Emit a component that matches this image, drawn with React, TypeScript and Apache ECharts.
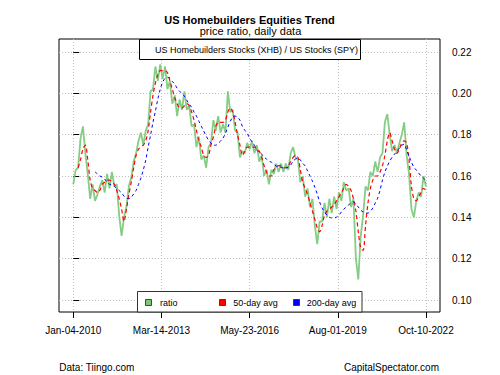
import React, { useEffect, useRef } from 'react';
import * as echarts from 'echarts';

// Trading-day index step between samples (index 0 = Jan-04-2010, index 3212 = Oct-10-2022)
const STEP = 22;

// XHB / SPY price ratio (sampled)
const ratio = [
  0.156, 0.163, 0.164, 0.178, 0.184, 0.171, 0.161, 0.149, 0.156, 0.148,
  0.151, 0.155, 0.158, 0.152, 0.161, 0.154, 0.162, 0.155, 0.156, 0.141,
  0.131, 0.140, 0.145, 0.155, 0.159, 0.167, 0.171, 0.177, 0.181, 0.175,
  0.182, 0.185, 0.201, 0.202, 0.213, 0.206, 0.214, 0.207, 0.213, 0.202,
  0.206, 0.195, 0.199, 0.189, 0.197, 0.192, 0.201, 0.192, 0.194, 0.184,
  0.185, 0.174, 0.179, 0.168, 0.170, 0.164, 0.174, 0.176, 0.187, 0.182,
  0.189, 0.181, 0.185, 0.181, 0.201, 0.191, 0.192, 0.182, 0.181, 0.169,
  0.172, 0.171, 0.176, 0.173, 0.177, 0.171, 0.175, 0.167, 0.170, 0.160,
  0.163, 0.156, 0.163, 0.161, 0.166, 0.162, 0.166, 0.162, 0.166, 0.163,
  0.171, 0.174, 0.169, 0.168, 0.157, 0.160, 0.150, 0.154, 0.145, 0.149,
  0.136, 0.127, 0.138, 0.138, 0.147, 0.140, 0.149, 0.142, 0.150, 0.144,
  0.152, 0.148, 0.157, 0.153, 0.154, 0.145, 0.149, 0.120, 0.110, 0.131,
  0.141, 0.155, 0.153, 0.162, 0.160, 0.167, 0.162, 0.169, 0.171, 0.186,
  0.190, 0.180, 0.172, 0.175, 0.171, 0.176, 0.180, 0.186, 0.170, 0.161,
  0.144, 0.140, 0.148, 0.152, 0.150, 0.160, 0.155,
];

// 50-day moving average (sampled)
const ma50 = [
  null, null, 0.164, 0.168, 0.173, 0.175, 0.168, 0.158, 0.154, 0.153,
  0.152, 0.153, 0.156, 0.157, 0.158, 0.158, 0.157, 0.156, 0.153, 0.149,
  0.144, 0.138, 0.144, 0.151, 0.157, 0.164, 0.170, 0.173, 0.174, 0.175,
  0.177, 0.182, 0.191, 0.199, 0.205, 0.209, 0.211, 0.211, 0.211, 0.210,
  0.206, 0.202, 0.198, 0.195, 0.193, 0.193, 0.194, 0.195, 0.194, 0.191,
  0.187, 0.182, 0.177, 0.174, 0.170, 0.169, 0.170, 0.175, 0.179, 0.184,
  0.186, 0.186, 0.186, 0.187, 0.191, 0.193, 0.191, 0.186, 0.180, 0.175,
  0.170, 0.172, 0.174, 0.174, 0.174, 0.174, 0.173, 0.172, 0.169, 0.165,
  0.162, 0.160, 0.160, 0.163, 0.164, 0.165, 0.165, 0.164, 0.164, 0.165,
  0.167, 0.169, 0.170, 0.169, 0.163, 0.157, 0.154, 0.151, 0.147, 0.143,
  0.139, 0.135, 0.133, 0.136, 0.141, 0.143, 0.144, 0.145, 0.146, 0.148,
  0.150, 0.152, 0.154, 0.156, 0.155, 0.153, 0.149, 0.143, 0.133, 0.125,
  0.124, 0.136, 0.147, 0.154, 0.158, 0.160, 0.160, 0.162, 0.165, 0.170,
  0.177, 0.181, 0.177, 0.173, 0.171, 0.173, 0.176, 0.177, 0.176, 0.168,
  0.155, 0.149, 0.148, 0.150, 0.152, 0.154, 0.153,
];

// 200-day moving average (sampled)
const ma200 = [
  null, null, null, null, null, null, null, null, null, 0.162,
  0.161, 0.160, 0.1595, 0.1585, 0.157, 0.156, 0.1556, 0.155, 0.154, 0.153,
  0.1518, 0.1503, 0.1493, 0.149, 0.1498, 0.1513, 0.153, 0.156, 0.159, 0.163,
  0.1677, 0.174, 0.1798, 0.186, 0.1914, 0.1972, 0.202, 0.2054, 0.2073, 0.2078,
  0.2073, 0.2058, 0.2044, 0.2025, 0.201, 0.200, 0.1986, 0.1967, 0.1947, 0.1933,
  0.1909, 0.189, 0.1865, 0.1841, 0.1817, 0.1793, 0.1774, 0.1759, 0.1749, 0.1749,
  0.1759, 0.1769, 0.1783, 0.1807, 0.1836, 0.1865, 0.1885, 0.189, 0.1885, 0.187,
  0.1841, 0.1822, 0.1807, 0.1783, 0.1765, 0.1749, 0.1725, 0.1716, 0.1706, 0.1691,
  0.1682, 0.1672, 0.1667, 0.1657, 0.1648, 0.1643, 0.1643, 0.1638, 0.1638, 0.1643,
  0.1653, 0.1672, 0.1682, 0.1687, 0.1677, 0.1662, 0.1648, 0.1624, 0.160, 0.1575,
  0.1546, 0.1513, 0.1474, 0.1445, 0.1426, 0.1411, 0.1401, 0.1397, 0.1397, 0.1401,
  0.1411, 0.1426, 0.144, 0.145, 0.146, 0.1469, 0.1474, 0.1464, 0.145, 0.1435,
  0.1426, 0.1421, 0.1421, 0.143, 0.1445, 0.1469, 0.1493, 0.1532, 0.158, 0.1619,
  0.1648, 0.1672, 0.1691, 0.1706, 0.172, 0.1735, 0.1749, 0.1754, 0.1725, 0.1696,
  0.1667, 0.1643, 0.1629, 0.1614, 0.160, 0.159, 0.1566,
];

const xTickIndex = [0, 803, 1606, 2409, 3212];
const xTickLabels = ['Jan-04-2010', 'Mar-14-2013', 'May-23-2016', 'Aug-01-2019', 'Oct-10-2022'];
const yTickValues = [0.1, 0.12, 0.14, 0.16, 0.18, 0.2, 0.22];
const legendNames = ['ratio', '50-day avg', '200-day avg'];

const TITLE = 'US Homebuilders Equities Trend';
const SUBTITLE = 'price ratio, daily data';
const BOX_TEXT = 'US Homebuilders Stocks (XHB) / US Stocks (SPY)';
const SOURCE = 'Data: Tiingo.com';
const CREDIT = 'CapitalSpectator.com';

const FONT = '"Liberation Sans", Arial, Helvetica, sans-serif';
const GREEN = '#78C878';
const RED = '#FF0000';
const BLUE = '#0000FF';

function toPoints(arr: (number | null)[]) {
  const out: [number, number][] = [];
  arr.forEach((v, i) => {
    if (v != null) out.push([i * STEP, v]);
  });
  return out;
}

export default function App() {
  const ref = useRef<HTMLDivElement>(null);

  useEffect(() => {
    if (!ref.current) return;
    const chart = echarts.init(ref.current, null, { renderer: 'svg' });
    const colors = [GREEN, RED, BLUE];
    const legendIconX = [145.5, 219.5, 293.5];
    const legendTextX = [160, 233.3, 306.7];

    const option: any = {
      animation: false,
      backgroundColor: '#fff',
      textStyle: { fontFamily: FONT },
      grid: {
        left: 59, top: 39, width: 381, height: 273,
        show: true, borderColor: '#000', borderWidth: 1,
        backgroundColor: 'transparent',
      },
      xAxis: {
        type: 'value',
        min: -130,
        max: 3340,
        axisLine: { show: false },
        axisTick: { show: true, customValues: xTickIndex, length: 6, lineStyle: { color: '#000' } },
        axisLabel: {
          customValues: xTickIndex,
          formatter: (v: number) => {
            const k = xTickIndex.indexOf(Math.round(v));
            return k >= 0 ? xTickLabels[k] : '';
          },
          margin: 13, fontSize: 10, color: '#000', fontFamily: FONT,
        },
        splitLine: { show: true, lineStyle: { color: '#bdbdbd', type: [1, 2], width: 1 } },
      },
      yAxis: {
        type: 'value',
        position: 'right',
        min: 0.0942,
        max: 0.2263,
        axisLine: { show: false },
        axisTick: { show: true, customValues: yTickValues, length: 6, lineStyle: { color: '#000' } },
        axisLabel: {
          customValues: yTickValues,
          formatter: (v: number) => v.toFixed(2),
          margin: 12, fontSize: 10, color: '#000', fontFamily: FONT,
        },
        splitLine: { show: true, lineStyle: { color: '#bdbdbd', type: [1, 2], width: 1 } },
      },
      series: [
        {
          name: legendNames[0], type: 'line', data: toPoints(ratio), symbol: 'none',
          lineStyle: { color: GREEN, width: 1.8, opacity: 0.9 }, z: 2,
        },
        {
          name: legendNames[1], type: 'line', data: toPoints(ma50), symbol: 'none', smooth: 0.3,
          lineStyle: { color: RED, width: 1.2, type: [4, 3] }, z: 3,
        },
        {
          name: legendNames[2], type: 'line', data: toPoints(ma200), symbol: 'none', smooth: 0.3,
          lineStyle: { color: BLUE, width: 1, type: [3, 3] }, z: 4,
        },
      ],
      graphic: [
        {
          type: 'text', x: 249.5, y: 20, z: 100,
          style: { text: TITLE, font: `bold 11px ${FONT}`, fill: '#000', align: 'center', verticalAlign: 'middle' },
        },
        {
          type: 'text', x: 250.5, y: 30.7, z: 100,
          style: { text: SUBTITLE, font: `11px ${FONT}`, fill: '#000', align: 'center', verticalAlign: 'middle' },
        },
        {
          type: 'rect', z: 100,
          shape: { x: 139.5, y: 39.5, width: 221, height: 20 },
          style: { fill: '#fff', stroke: '#000', lineWidth: 1 },
        },
        {
          type: 'text', x: 155, y: 50, z: 101,
          style: { text: BOX_TEXT, font: `9px ${FONT}`, fill: '#000', align: 'left', verticalAlign: 'middle' },
        },
        {
          type: 'rect', z: 100,
          shape: { x: 137.5, y: 291.5, width: 224.5, height: 20.5 },
          style: { fill: '#fff', stroke: '#333', lineWidth: 1 },
        },
        ...legendNames.map((n, k) => ({
          type: 'rect', z: 101,
          shape: { x: legendIconX[k], y: 299.5, width: 6, height: 6 },
          style: { fill: colors[k], stroke: '#222', lineWidth: 0.8 },
        })),
        ...legendNames.map((n, k) => ({
          type: 'text', x: legendTextX[k], y: 302.7, z: 101,
          style: { text: n, font: `9px ${FONT}`, fill: '#000', align: 'left', verticalAlign: 'middle' },
        })),
        {
          type: 'text', x: 59.3, y: 367.3, z: 100,
          style: { text: SOURCE, font: `10px ${FONT}`, fill: '#000', align: 'left', verticalAlign: 'middle' },
        },
        {
          type: 'text', x: 439, y: 367.3, z: 100,
          style: { text: CREDIT, font: `10px ${FONT}`, fill: '#000', align: 'right', verticalAlign: 'middle' },
        },
      ],
    };

    chart.setOption(option);
    return () => chart.dispose();
  }, []);

  return (
    <div
      ref={ref}
      style={{ position: 'fixed', left: 0, top: 0, width: 500, height: 375, background: '#fff' }}
    />
  );
}
